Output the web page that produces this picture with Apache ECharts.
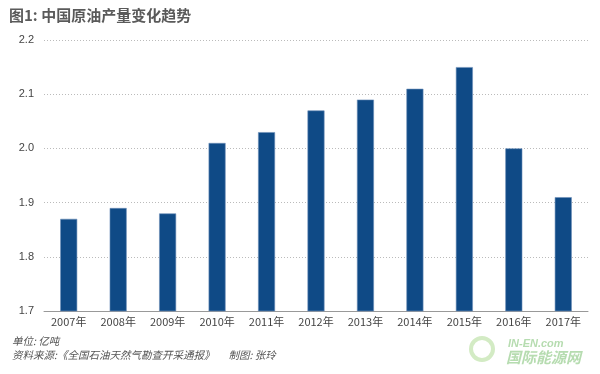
<!DOCTYPE html>
<html><head><meta charset="utf-8">
<script src="https://cdn.jsdelivr.net/npm/echarts@6/dist/echarts.min.js"></script>
<style>html,body{margin:0;padding:0;background:#fff}#c{width:600px;height:374px}</style>
</head><body><div id="c"></div>
<script>
const categories = ['2007年','2008年','2009年','2010年','2011年','2012年','2013年','2014年','2015年','2016年','2017年'];
const production = [1.87, 1.89, 1.88, 2.01, 2.03, 2.07, 2.09, 2.11, 2.15, 2.00, 1.91];
const chart = echarts.init(document.getElementById('c'));
const ff = '"Noto Sans CJK SC","Liberation Sans",sans-serif';
chart.setOption({
  animation: false,
  title: {
    text: '图1: 中国原油产量变化趋势', left: 4, top: 3,
    textStyle: {fontSize: 15, fontWeight: 'bold', color: '#5a5a5a', fontFamily: ff}
  },
  grid: {left: 44, right: 12, top: 40, bottom: 63},
  xAxis: {
    type: 'category', data: categories,
    axisLine: {lineStyle: {color: '#999', width: 1}},
    axisTick: {show: false},
    axisLabel: {color: '#444', fontSize: 11, margin: 5, fontFamily: ff}
  },
  yAxis: {
    type: 'value', min: 1.7, max: 2.2, interval: 0.1,
    axisLine: {show: false}, axisTick: {show: false},
    axisLabel: {color: '#444', fontSize: 11, margin: 10, fontFamily: '"Liberation Sans",sans-serif',
      formatter: v => v.toFixed(1)},
    splitLine: {lineStyle: {color: '#bbb', type: [1, 2], width: 1}}
  },
  series: [{
    type: 'bar', data: production, barWidth: 17,
    itemStyle: {color: '#0f4a86', borderColor: '#6d8fb8', borderWidth: 0.6}
  }],
  graphic: [
    {type: 'text', left: 12, top: 336, style: {text: '单位: 亿吨', fill: '#555', font: 'italic 10.5px "Noto Sans CJK SC",sans-serif'}},
    {type: 'text', left: 12, top: 350, style: {text: '资料来源:《全国石油天然气勘查开采通报》      制图: 张玲', fill: '#555', font: 'italic 10.5px "Noto Sans CJK SC",sans-serif'}},
    {type: 'text', left: 508, top: 338, style: {text: 'IN-EN.com', fill: '#b6dcb0', font: 'bold italic 11px "Liberation Sans",sans-serif'}},
    {type: 'text', left: 506, top: 350, style: {text: '国际能源网', fill: '#b6dcb0', font: 'bold italic 15px "Noto Sans CJK SC",sans-serif'}},
    {type: 'circle', shape: {cx: 482, cy: 349, r: 11}, style: {fill: 'none', stroke: '#d3ebc4', lineWidth: 4}}
  ]
});
</script></body></html>
